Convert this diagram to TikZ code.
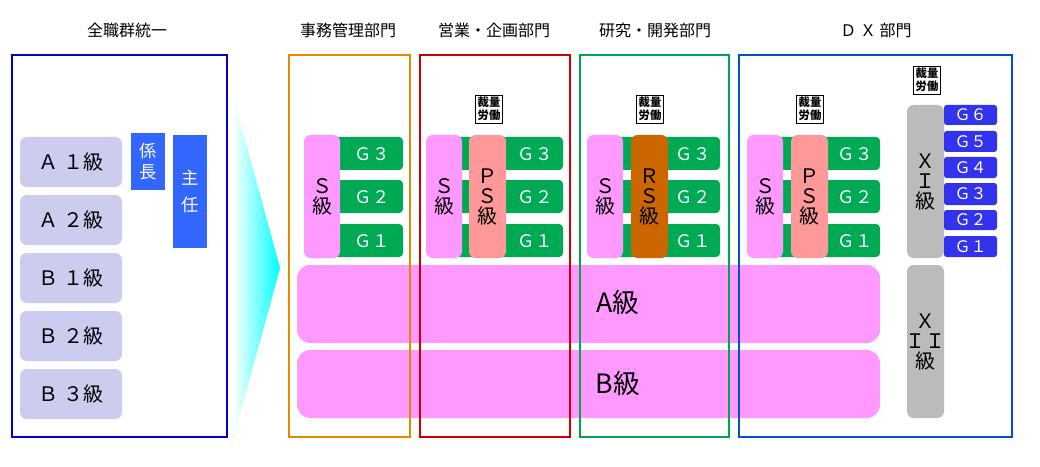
\documentclass[tikz,border=0pt]{standalone}
\usepackage{fontspec}
\setmainfont{Noto Sans CJK JP}
\begin{document}
\begin{tikzpicture}[x=0.75pt,y=-0.75pt,
 ttl/.style={font=\fontsize{12}{14}\selectfont},
 grade/.style={fill=lav,rounded corners=5pt,font=\fontsize{15}{17}\selectfont},
 pinkbox/.style={fill=pinkc,rounded corners=5pt},
 gbox/.style={fill=greenc,rounded corners=3pt},
 gtxt/.style={text=white,font=\fontsize{13}{15}\selectfont},
 btxt/.style={text=white,font=\fontsize{12}{13}\selectfont},
 sai/.style={draw,fill=white,inner sep=1.5pt,font=\bfseries\fontsize{8.5}{10}\selectfont,align=center},
 vt/.style={align=center,font=\fontsize{15}{15}\selectfont}]
\definecolor{lav}{HTML}{CCCCEE}
\definecolor{pinkc}{HTML}{FF99FF}
\definecolor{greenc}{HTML}{00AA55}
\definecolor{salmon}{HTML}{FF9999}
\definecolor{brownc}{HTML}{CC6600}
\definecolor{bluec}{HTML}{3366FF}
\definecolor{bluex}{HTML}{3333EE}
\definecolor{grayc}{HTML}{BBBBBB}
\useasboundingbox (0,0) rectangle (1040,467);
% titles
\node[ttl] (t0) at (127,30) {全職群統一};
\node[ttl] (t1) at (348,30) {事務管理部門};
\node[ttl] (t2) at (494,30) {営業・企画部門};
\node[ttl] (t3) at (655,30) {研究・開発部門};
\node[ttl] (t4) at (876,30) {Ｄ Ｘ 部門};
% left
\draw[draw=blue!80!black,line width=1.5pt] (12,55) rectangle (227,437);
\foreach \y/\t in {137/Ａ １級,195/Ａ ２級,253/Ｂ １級,311/Ｂ ２級,369/Ｂ ３級}
 \path[grade] (20,\y) rectangle node{\t} (122,\y+50);
\path[fill=bluec] (131,133) rectangle node[text=white,align=center,font=\fontsize{13}{16}\selectfont]{係\\長} (165,190);
\path[fill=bluec] (173,135) rectangle node[text=white,align=center,font=\fontsize{13}{20}\selectfont]{主\\任} (207,248);
% arrow
\shade[left color=white,right color=cyan] (233,95) -- (280,268) -- (233,440) -- cycle;
% pink bars (behind dept frames? drawn first)
\path[pinkbox,rounded corners=10pt] (297,265) rectangle (880,343);
\node[font=\fontsize{20}{22}\selectfont] (a) at (618,302) {A級};
\path[pinkbox,rounded corners=10pt] (297,350) rectangle (880,418);
\node[font=\fontsize{20}{22}\selectfont] (b) at (618,383) {B級};
% dept frames
\draw[draw=orange!80!yellow!90!black,line width=1.3pt] (289,55) rectangle (410,437);
\draw[draw=red!80!black,line width=1.3pt] (420,55) rectangle (570,437);
\draw[draw=green!50!black!70!cyan,line width=1.3pt] (580,55) rectangle (729,437);
\draw[draw=blue!60!cyan!80!black,line width=1.3pt] (739,55) rectangle (1012,437);
% sections
\foreach \sx/\gl/\gr/\tx in {304/340/403/372, 426/462/563/535, 587/623/720/693, 747/783/880/855}{
 \path[gbox] (\gl-8,137) rectangle (\gr,170);
 \path[gbox] (\gl-8,180) rectangle (\gr,213);
 \path[gbox] (\gl-8,224) rectangle (\gr,257);
 \node[gtxt] at (\tx,154) {Ｇ３};
 \node[gtxt] at (\tx,197) {Ｇ２};
 \node[gtxt] at (\tx,241) {Ｇ１};
 \path[pinkbox] (\sx,135) rectangle node[vt]{Ｓ\\級} (\sx+36,258);
}
\path[fill=salmon,rounded corners=5pt] (469,135) rectangle node[vt]{Ｐ\\Ｓ\\級} (506,258);
\path[fill=brownc,rounded corners=5pt] (631,135) rectangle node[vt]{Ｒ\\Ｓ\\級} (668,258);
\path[fill=salmon,rounded corners=5pt] (791,135) rectangle node[vt]{Ｐ\\Ｓ\\級} (828,258);
\node[sai] (s1) at (489,109) {裁量\\労働};
\node[sai] (s2) at (650,109) {裁量\\労働};
\node[sai] (s3) at (810,109) {裁量\\労働};
\node[sai] (s4) at (927,80) {裁量\\労働};
% XI / XII
\path[fill=grayc,rounded corners=5pt] (907,105) rectangle node[vt]{Ｘ\\Ｉ\\級} (944,258);
\path[fill=grayc,rounded corners=5pt] (907,265) rectangle node[vt]{Ｘ\\ＩＩ\\級} (944,418);
\foreach \y/\h/\t in {105/125/Ｇ６,131/152/Ｇ５,157/178/Ｇ４,183/205/Ｇ３,210/230/Ｇ２,236/257/Ｇ１}
 \path[fill=bluex,rounded corners=2pt] (944,\y) rectangle node[btxt]{\t} (997,\h);
\end{tikzpicture}
\end{document}
